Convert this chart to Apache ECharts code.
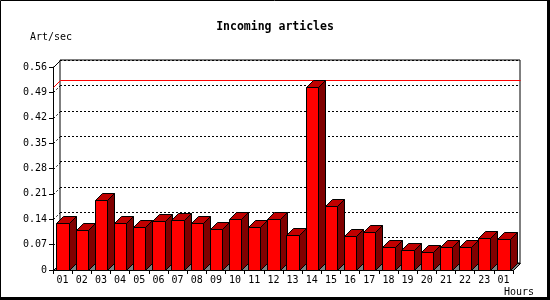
<!DOCTYPE html>
<html>
<head>
<meta charset="utf-8">
<script src="https://cdn.jsdelivr.net/npm/echarts@6/dist/echarts.min.js"></script>
<style>html,body{margin:0;padding:0;background:#fff}#c{width:550px;height:300px}</style>
</head>
<body>
<div id="c"></div>
<script>
var categories = ['01','02','03','04','05','06','07','08','09','10','11','12','13','14','15','16','17','18','19','20','21','22','23','01'];
var artPerSec = [0.131, 0.110, 0.192, 0.131, 0.118, 0.135, 0.137, 0.129, 0.112, 0.140, 0.118, 0.142,
                 0.096, 0.504, 0.176, 0.093, 0.104, 0.063, 0.054, 0.049, 0.064, 0.064, 0.087, 0.085];
var yTicks = [0.07, 0.14, 0.21, 0.28, 0.35, 0.42, 0.49];
var titleText = 'Incoming articles';
var yName = 'Art/sec';
var xName = 'Hours';

var D = 7;
var FONT = 'DejaVu Sans Mono';
var maxVal = Math.max.apply(null, artPerSec);

function px(v){ return Math.round(v) + 0.5; }

function renderBar(params, api) {
  var idx = api.value(0), v = api.value(1);
  var base = api.coord([idx, 0]);
  var top = api.coord([idx, v]);
  var band = api.size([1, 0])[0];
  var hw = band * 0.325;
  var xl = px(base[0] - hw), xr = px(base[0] + hw);
  var yb = px(base[1]), yt = px(top[1]);
  return {
    type: 'group',
    children: [
      {type: 'polygon', shape: {points: [[xr, yb], [xr + D, yb - D], [xr + D, yt - D], [xr, yt]]},
       style: {fill: '#800000', stroke: '#000', lineWidth: 1}},
      {type: 'polygon', shape: {points: [[xl, yt], [xl + D, yt - D], [xr + D, yt - D], [xr, yt]]},
       style: {fill: '#c00000', stroke: '#000', lineWidth: 1}},
      {type: 'rect', shape: {x: xl, y: yt, width: xr - xl, height: yb - yt},
       style: {fill: '#ff0000', stroke: '#000', lineWidth: 1}}
    ]
  };
}

function renderFrame(params, api) {
  var cs = params.coordSys;
  var x0 = px(cs.x), x1 = px(cs.x + cs.width), yb = px(cs.y + cs.height), yt = px(cs.y);
  var children = [
    {type: 'polygon', shape: {points: [[x0, yb], [x1, yb], [x1 + D, yb - D], [x0 + D, yb - D]]},
     style: {fill: '#808080', stroke: '#000', lineWidth: 1}},
    {type: 'polyline', shape: {points: [[x0, yt], [x0 + D, yt - D]]},
     style: {stroke: '#000', lineWidth: 1, fill: null}}
  ];
  yTicks.forEach(function (t) {
    var y = px(api.coord([0, t])[1]);
    children.push({type: 'polyline', shape: {points: [[x0, y], [x0 + D, y - D]]},
      style: {stroke: '#000', lineWidth: 1, lineDash: [2, 2], fill: null}});
  });
  var ym = px(api.coord([0, maxVal])[1]);
  children.push({type: 'polyline', shape: {points: [[x0, ym], [x0 + D, ym - D], [x1 + D, ym - D]]},
    style: {stroke: '#ff0000', lineWidth: 1, fill: null}});
  return {type: 'group', children: children};
}

var chart = echarts.init(document.getElementById('c'), null, {renderer: 'canvas'});
chart.setOption({
  animation: false,
  backgroundColor: '#fff',
  grid: [
    {left: 53, right: 37, top: 67, bottom: 30, containLabel: false},
    {left: 60, right: 30, top: 60, bottom: 37, containLabel: false, show: true,
     borderColor: '#000', borderWidth: 1, backgroundColor: 'transparent'}
  ],
  xAxis: [
    {type: 'category', gridIndex: 0, data: categories, boundaryGap: true,
     axisLine: {show: true, lineStyle: {color: '#000', width: 1}},
     axisTick: {show: true, length: 4, lineStyle: {color: '#000'}},
     axisLabel: {color: '#000', fontFamily: FONT, fontSize: 10, margin: 5, interval: 0},
     splitLine: {show: false}},
    {type: 'category', gridIndex: 1, data: categories, show: false}
  ],
  yAxis: [
    {type: 'value', gridIndex: 0, min: 0, max: 0.56, interval: 0.07,
     axisLine: {show: true, lineStyle: {color: '#000', width: 1}},
     axisTick: {show: true, length: 4, lineStyle: {color: '#000'}},
     axisLabel: {color: '#000', fontFamily: FONT, fontSize: 10, margin: 6},
     splitLine: {show: false}},
    {type: 'value', gridIndex: 1, min: 0, max: 0.56, interval: 0.07,
     axisLine: {show: false}, axisTick: {show: false}, axisLabel: {show: false},
     splitLine: {show: true, lineStyle: {color: '#000', width: 1, type: [2, 2]}}}
  ],
  graphic: [
    {type: 'text', left: 'center', top: 21, style: {text: titleText, fill: '#000',
      font: 'bold 11.5px "DejaVu Sans Mono"'}},
    {type: 'text', left: 30, top: 32, style: {text: yName, fill: '#000', font: '10px "DejaVu Sans Mono"'}},
    {type: 'text', left: 504, top: 287, style: {text: xName, fill: '#000', font: '10px "DejaVu Sans Mono"'}},
    {type: 'rect', shape: {x: 0.5, y: 0.5, width: 548, height: 297}, style: {fill: null, stroke: '#000', lineWidth: 1}, z: 10},
    {type: 'rect', shape: {x: 547, y: 0, width: 3, height: 300}, style: {fill: '#000'}, z: 10},
    {type: 'rect', shape: {x: 0, y: 297, width: 550, height: 3}, style: {fill: '#000'}, z: 10}
  ],
  series: [
    {type: 'custom', name: 'frame', xAxisIndex: 0, yAxisIndex: 0, z: 1, clip: false,
     renderItem: renderFrame, data: [[0, 0]], silent: true},
    {type: 'custom', name: 'Art/sec', xAxisIndex: 0, yAxisIndex: 0, z: 3, clip: false,
     renderItem: renderBar, data: artPerSec.map(function (v, i) { return [i, v]; })}
  ]
});
</script>
</body>
</html>
